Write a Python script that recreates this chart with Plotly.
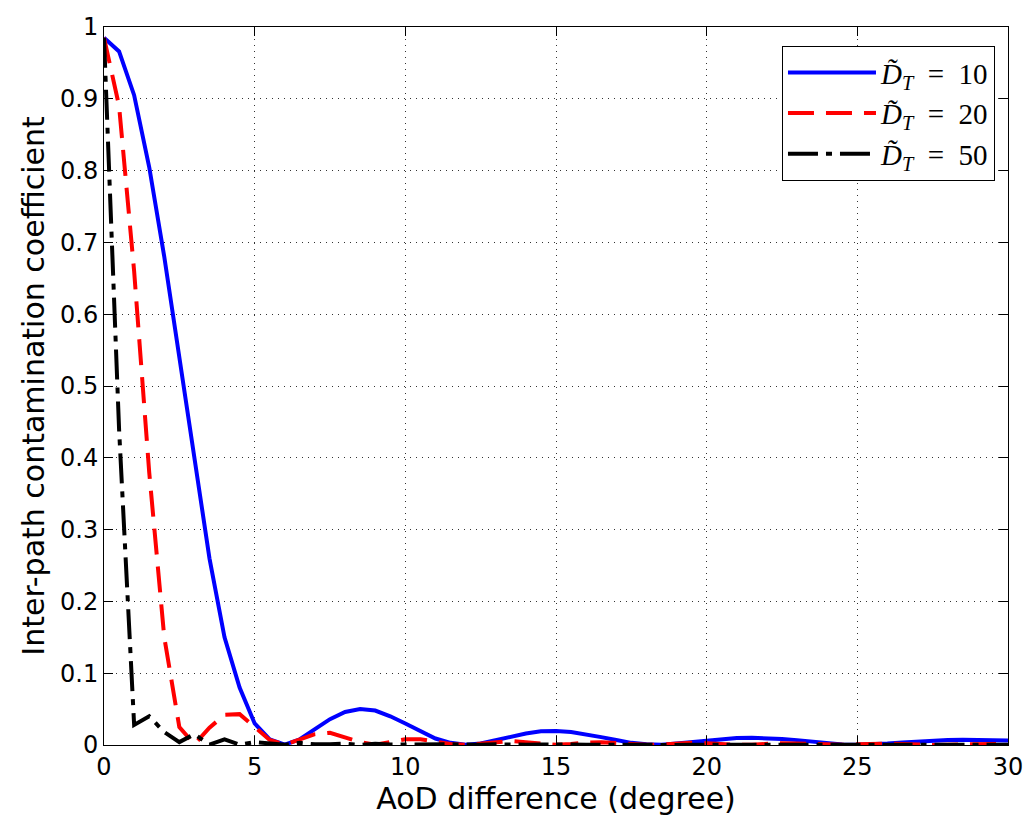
import plotly.graph_objects as go

# AoD difference samples (degree)
aod_deg = [0.0, 0.5, 1.0, 1.5, 2.0, 2.5, 3.0, 3.5, 4.0, 4.5, 5.0, 5.5, 6.0, 6.5, 7.0, 7.5, 8.0, 8.5, 9.0, 9.5,
           10.0, 10.5, 11.0, 11.5, 12.0, 12.5, 13.0, 13.5, 14.0, 14.5, 15.0, 15.5, 16.0, 16.5, 17.0, 17.5, 18.0, 18.5, 19.0, 19.5,
           20.0, 20.5, 21.0, 21.5, 22.0, 22.5, 23.0, 23.5, 24.0, 24.5, 25.0, 25.5, 26.0, 26.5, 27.0, 27.5, 28.0, 28.5, 29.0, 29.5, 30.0]

# D_T = 10
coef_d10 = [0.985, 0.966, 0.905, 0.805, 0.68, 0.54, 0.40, 0.26, 0.15, 0.08,
            0.03, 0.008, 0.0005, 0.008, 0.022, 0.036, 0.046, 0.050, 0.048, 0.040,
            0.030, 0.019, 0.009, 0.003, 0.0003, 0.002, 0.007, 0.012, 0.016, 0.019,
            0.0195, 0.018, 0.015, 0.011, 0.007, 0.003, 0.001, 0.0003, 0.002, 0.004,
            0.0065, 0.0085, 0.0098, 0.010, 0.0097, 0.0085, 0.0068, 0.0045, 0.0025, 0.0008,
            0.0002, 0.0008, 0.002, 0.0035, 0.005, 0.006, 0.0068, 0.0072, 0.0072, 0.0068, 0.0062]

# D_T = 20
coef_d20 = [0.985, 0.89, 0.66, 0.38, 0.15, 0.025, 0.001, 0.024, 0.042, 0.043,
            0.025, 0.007, 0.0005, 0.008, 0.015, 0.017, 0.011, 0.004, 0.0003, 0.004,
            0.008, 0.008, 0.005, 0.0015, 0.0002, 0.002, 0.005, 0.0055, 0.004, 0.0015,
            0.0002, 0.0015, 0.0035, 0.004, 0.003, 0.001, 0.0002, 0.0008, 0.0025, 0.003,
            0.0025, 0.001, 0.0002, 0.0005, 0.0018, 0.0025, 0.0022, 0.0012, 0.0003, 0.0002,
            0.001, 0.0018, 0.002, 0.0015, 0.0006, 0.0001, 0.0004, 0.0012, 0.0017, 0.0015, 0.0008]

# D_T = 50
coef_d50 = [0.985, 0.44, 0.028, 0.040, 0.018, 0.004, 0.015, 0.0005, 0.008, 0.0005,
            0.004, 0.002, 0.0005, 0.003, 0.001, 0.0012, 0.002, 0.0002, 0.0018, 0.0008,
            0.0005, 0.0014, 0.0002, 0.0009, 0.0008, 0.0002, 0.001, 0.0003, 0.0005, 0.0008,
            0.0001, 0.0007, 0.0004, 0.0002, 0.0006, 0.0001, 0.0004, 0.0005, 0.0001, 0.0005,
            0.0003, 0.0002, 0.0004, 0.0001, 0.0003, 0.0004, 0.0001, 0.0003, 0.0003, 0.0001,
            0.0003, 0.0002, 0.0001, 0.0003, 0.0001, 0.0002, 0.0002, 0.0001, 0.0002, 0.0001, 0.0002]

series_names = ["<i>D̃</i><sub><i>T</i></sub>\u2002=\u200210",
                "<i>D̃</i><sub><i>T</i></sub>\u2002=\u200220",
                "<i>D̃</i><sub><i>T</i></sub>\u2002=\u200250"]

x_ticks = [0, 5, 10, 15, 20, 25, 30]
y_ticks = [0, 0.1, 0.2, 0.3, 0.4, 0.5, 0.6, 0.7, 0.8, 0.9, 1.0]
y_tick_text = ["0", "0.1", "0.2", "0.3", "0.4", "0.5", "0.6", "0.7", "0.8", "0.9", "1"]

fig = go.Figure()
fig.add_trace(go.Scatter(x=aod_deg, y=coef_d10, mode="lines", name=series_names[0],
                         line=dict(color="#0000ff", width=4)))
fig.add_trace(go.Scatter(x=aod_deg, y=coef_d20, mode="lines", name=series_names[1],
                         line=dict(color="#ff0000", width=4, dash="26px,12px")))
fig.add_trace(go.Scatter(x=aod_deg, y=coef_d50, mode="lines", name=series_names[2],
                         line=dict(color="#000000", width=4, dash="30px,8px,6px,8px")))

axis_common = dict(
    showline=True, linecolor="black", linewidth=1, mirror="ticks",
    ticks="inside", ticklen=9, tickcolor="black", tickwidth=1,
    showgrid=True, gridcolor="#333333", gridwidth=1, griddash="1px,5px",
    zeroline=False, automargin=False,
    tickfont=dict(family="DejaVu Sans", size=24, color="black"),
)

fig.update_xaxes(range=[0, 30], tickvals=x_ticks, ticktext=[str(v) for v in x_ticks],
                 title=dict(text="AoD difference (degree)", standoff=8,
                            font=dict(family="DejaVu Sans", size=30, color="black")),
                 **axis_common)
fig.update_yaxes(range=[0, 1], tickvals=y_ticks, ticktext=y_tick_text,
                 title=dict(text="Inter-path contamination coefficient", standoff=6,
                            font=dict(family="DejaVu Sans", size=30, color="black")),
                 **axis_common)

fig.update_layout(
    width=1018, height=815,
    margin=dict(l=96, r=18, t=19, b=78),
    paper_bgcolor="white", plot_bgcolor="white",
    legend=dict(x=0.9856, y=0.9735, xanchor="right", yanchor="top",
                bgcolor="white", bordercolor="black", borderwidth=1,
                font=dict(family="Liberation Serif", size=29, color="black"),
                itemwidth=88, tracegroupgap=0),
    showlegend=True,
)

fig.write_html("out.html")
